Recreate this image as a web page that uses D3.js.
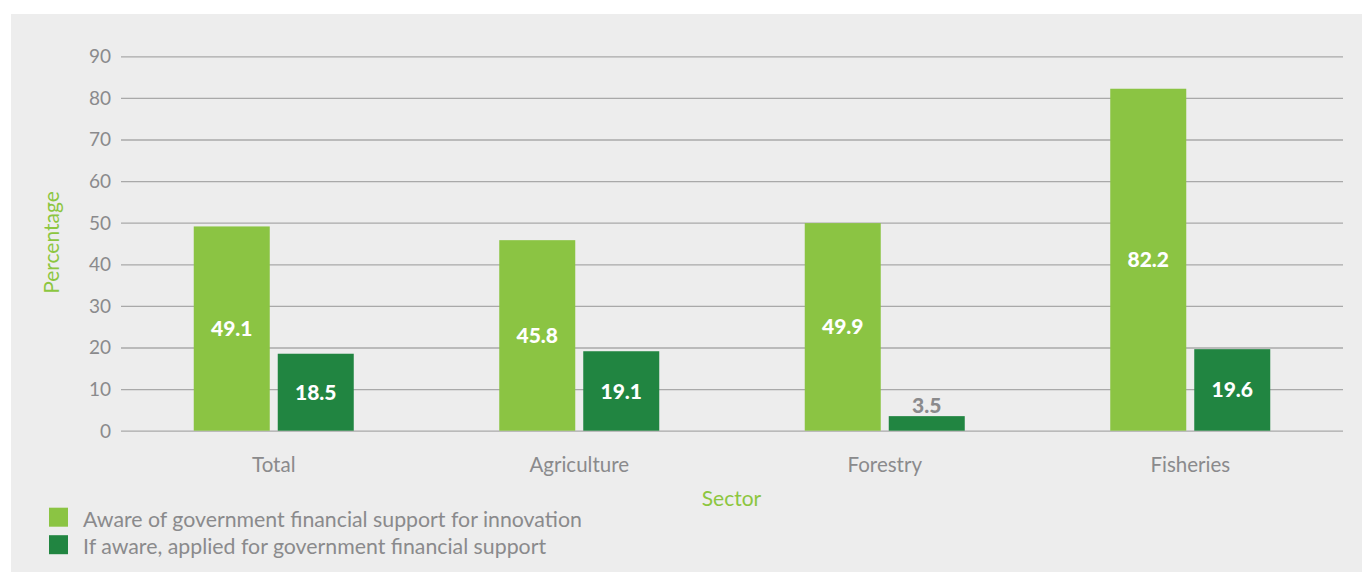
<!DOCTYPE html>
<html>
<head>
<meta charset="utf-8">
<script src="https://cdn.jsdelivr.net/npm/d3@7"></script>
<style>
  html, body { margin: 0; padding: 0; background: #ffffff; }
  svg { display: block; }
  text { font-family: Lato, "Open Sans", sans-serif; }
</style>
</head>
<body>
<svg id="chart" width="1362" height="573"></svg>
<script>
// Sectors along the x axis
const sectors = ["Total", "Agriculture", "Forestry", "Fisheries"];
// Share aware of government financial support for innovation (%)
const awareValues = [49.1, 45.8, 49.9, 82.2];
// Share that applied, among those aware (%)
const appliedValues = [18.5, 19.1, 3.5, 19.6];
// Y axis ticks
const yTicks = [0, 10, 20, 30, 40, 50, 60, 70, 80, 90];
const seriesNames = [
  "Aware of government financial support for innovation",
  "If aware, applied for government financial support"
];
const seriesColors = ["#8bc443", "#218541"];

const W = 1362, H = 573;
const svg = d3.select("#chart");

// Light grey panel behind everything
svg.append("rect")
  .attr("x", 11).attr("y", 14)
  .attr("width", W - 11).attr("height", 558)
  .attr("fill", "#ededed");

const plot = { left: 121, right: 1343, top: 56.3, bottom: 430.7 };

const x = d3.scaleBand()
  .domain(sectors)
  .range([plot.left, plot.right])
  .paddingInner(0).paddingOuter(0);

const y = d3.scaleLinear()
  .domain([0, 90])
  .range([plot.bottom, plot.top]);

const barW = 76, barGap = 8;

// Horizontal gridlines + tick labels
const yAxis = d3.axisLeft(y)
  .tickValues(yTicks)
  .tickSize(-(plot.right - plot.left))
  .tickPadding(10)
  .tickFormat(d3.format("d"));

const gy = svg.append("g")
  .attr("transform", `translate(${plot.left},0)`)
  .call(yAxis);
gy.select(".domain").remove();
gy.selectAll(".tick line")
  .attr("stroke", "#a9a9a9")
  .attr("stroke-width", 1.3);
gy.selectAll(".tick text")
  .attr("fill", "#8a8a8c")
  .attr("font-size", 19)
  .attr("font-family", "Lato, sans-serif")
  .attr("dy", "0.34em");

// Sector labels under the bars
const gx = svg.append("g")
  .attr("transform", `translate(0,${plot.bottom})`)
  .call(d3.axisBottom(x).tickSize(0).tickPadding(27));
gx.select(".domain").remove();
gx.selectAll(".tick text")
  .attr("fill", "#8a8a8c")
  .attr("font-size", 20.5)
  .attr("font-family", "Lato, sans-serif");

// Bars
const groups = sectors.map((s, i) => ({
  sector: s,
  vals: [awareValues[i], appliedValues[i]]
}));

const g = svg.append("g");
groups.forEach(grp => {
  const cx = x(grp.sector) + x.bandwidth() / 2;
  grp.vals.forEach((v, j) => {
    const bx = j === 0 ? cx - barGap / 2 - barW : cx + barGap / 2;
    g.append("rect")
      .attr("x", bx)
      .attr("y", y(v))
      .attr("width", barW)
      .attr("height", y(0) - y(v))
      .attr("fill", seriesColors[j]);
    const small = (y(0) - y(v)) < 25;
    g.append("text")
      .attr("x", bx + barW / 2)
      .attr("y", small ? y(v) - 3 : (y(v) + y(0)) / 2)
      .attr("dy", small ? 0 : "0.36em")
      .attr("text-anchor", "middle")
      .attr("font-size", 21)
      .attr("font-weight", 900)
      .attr("fill", small ? "#8a8a8c" : "#ffffff")
      .text(d3.format(".1f")(v));
  });
});

// Axis titles
svg.append("text")
  .attr("transform", `translate(59,242.5) rotate(-90)`)
  .attr("text-anchor", "middle")
  .attr("font-size", 21)
  .attr("fill", "#8cc63f")
  .text("Percentage");

svg.append("text")
  .attr("x", 731.5).attr("y", 506)
  .attr("text-anchor", "middle")
  .attr("font-size", 21)
  .attr("fill", "#8cc63f")
  .text("Sector");

// Legend
const leg = svg.append("g");
seriesNames.forEach((name, i) => {
  const ly = 507.7 + i * 27.5;
  leg.append("rect")
    .attr("x", 49).attr("y", ly)
    .attr("width", 19).attr("height", 19)
    .attr("fill", seriesColors[i]);
  leg.append("text")
    .attr("x", 83).attr("y", ly + 19)
    .attr("font-size", 21.3)
    .attr("fill", "#8a8a8c")
    .text(name);
});
</script>
</body>
</html>
